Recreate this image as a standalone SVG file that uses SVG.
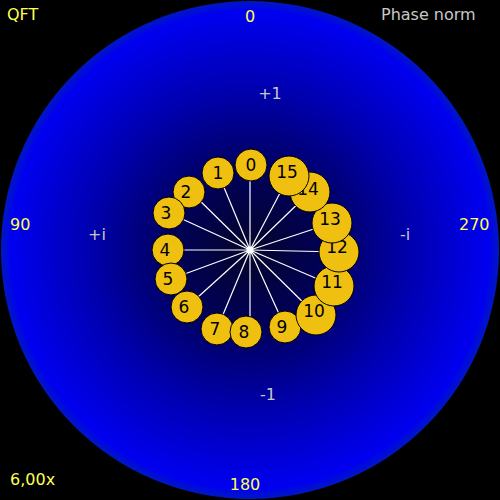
<svg xmlns="http://www.w3.org/2000/svg" width="500" height="500" viewBox="0 0 500 500">
<defs>
<radialGradient id="bg" cx="250" cy="250" r="249" gradientUnits="userSpaceOnUse">
<stop offset="0" stop-color="#05052a"/>
<stop offset="0.3" stop-color="#000058"/>
<stop offset="0.65" stop-color="#0000b0"/>
<stop offset="0.96" stop-color="#0000f0"/>
<stop offset="1" stop-color="#0018c0"/>
</radialGradient>
<style>
.y{fill:#ffff50;font-family:"DejaVu Sans",sans-serif;font-size:16px}
.g{fill:#c8c8c8;font-family:"DejaVu Sans",sans-serif;font-size:16px}
.n circle{fill:#f0c010;stroke:#000;stroke-width:1}
.n text{fill:#000;font-family:"DejaVu Sans",sans-serif;font-size:17px;text-anchor:middle}
#conn line{stroke:#fff;stroke-width:1.2}
</style>
</defs>
<rect width="500" height="500" fill="#000"/>
<circle cx="250" cy="250" r="249" fill="url(#bg)"/>
<text class="y" x="7" y="20">QFT</text>
<text class="g" x="381" y="20">Phase norm</text>
<text class="y" x="10" y="485">6,00x</text>
<text class="y" x="250" y="22" text-anchor="middle">0</text>
<text class="y" x="245" y="490" text-anchor="middle">180</text>
<text class="y" x="10" y="230">90</text>
<text class="y" x="459" y="230">270</text>
<text class="g" x="270" y="99" text-anchor="middle">+1</text>
<text class="g" x="268" y="400" text-anchor="middle">-1</text>
<text class="g" x="97" y="240" text-anchor="middle">+i</text>
<text class="g" x="405" y="240" text-anchor="middle">-i</text>
<g id="conn">
<line x1="250" y1="250" x2="250" y2="165"/>
<line x1="250" y1="250" x2="218" y2="173"/>
<line x1="250" y1="250" x2="190" y2="191"/>
<line x1="250" y1="250" x2="169" y2="213"/>
<line x1="250" y1="250" x2="168" y2="250"/>
<line x1="250" y1="250" x2="171" y2="279"/>
<line x1="250" y1="250" x2="187" y2="307"/>
<line x1="250" y1="250" x2="217" y2="329"/>
<line x1="250" y1="250" x2="250" y2="332"/>
<line x1="250" y1="250" x2="285" y2="327"/>
<line x1="250" y1="250" x2="316" y2="315"/>
<line x1="250" y1="250" x2="334" y2="286"/>
<line x1="250" y1="250" x2="339" y2="252"/>
<line x1="250" y1="250" x2="332" y2="223"/>
<line x1="250" y1="250" x2="310" y2="192"/>
<line x1="250" y1="250" x2="289" y2="176"/>
<circle cx="250" cy="250" r="3.5" fill="#fff"/>
</g>
<g id="n0" class="n"><circle cx="251" cy="165" r="16"/><text x="251" y="171">0</text></g>
<g id="n1" class="n"><circle cx="218" cy="173" r="16"/><text x="218" y="179">1</text></g>
<g id="n2" class="n"><circle cx="189" cy="192" r="16"/><text x="186" y="198">2</text></g>
<g id="n3" class="n"><circle cx="169" cy="213" r="16"/><text x="166" y="219">3</text></g>
<g id="n4" class="n"><circle cx="168" cy="250" r="16"/><text x="165" y="256">4</text></g>
<g id="n5" class="n"><circle cx="171" cy="279" r="16"/><text x="168" y="285">5</text></g>
<g id="n6" class="n"><circle cx="187" cy="307" r="16"/><text x="184" y="313">6</text></g>
<g id="n7" class="n"><circle cx="217" cy="329" r="16"/><text x="215" y="335">7</text></g>
<g id="n8" class="n"><circle cx="246" cy="332" r="16"/><text x="244" y="338">8</text></g>
<g id="n9" class="n"><circle cx="285" cy="327" r="16"/><text x="282" y="333">9</text></g>
<g id="n10" class="n"><circle cx="316" cy="315" r="20"/><text x="314" y="317">10</text></g>
<g id="n11" class="n"><circle cx="334" cy="286" r="20"/><text x="332" y="288">11</text></g>
<g id="n12" class="n"><circle cx="339" cy="252" r="20"/><text x="337" y="253">12</text></g>
<g id="n13" class="n"><circle cx="332" cy="223" r="20"/><text x="330" y="225">13</text></g>
<g id="n14" class="n"><circle cx="310" cy="192" r="20"/><text x="308" y="195">14</text></g>
<g id="n15" class="n"><circle cx="289" cy="176" r="20"/><text x="287" y="178">15</text></g>
</svg>
